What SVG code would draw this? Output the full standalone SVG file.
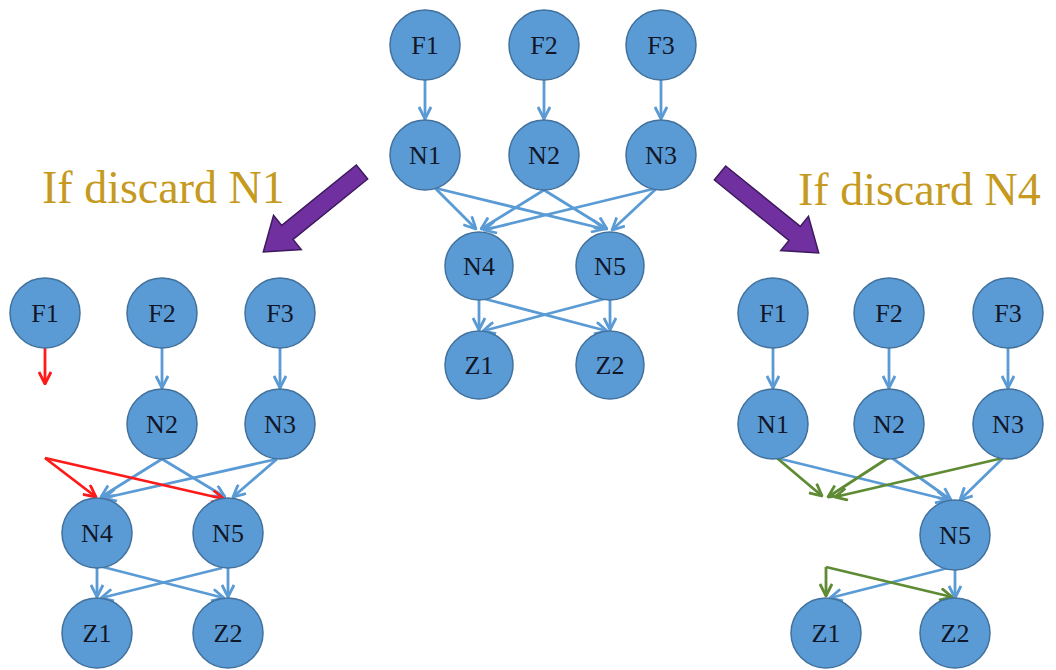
<svg xmlns="http://www.w3.org/2000/svg" width="1056" height="670" viewBox="0 0 1056 670">
  <style>
    .node circle { fill: #5B9BD5; stroke: #41719C; stroke-width: 1.5; }
    .node text { font-family: "Liberation Serif", "Times New Roman", serif; font-size: 26px; fill: #111729; text-anchor: middle; dominant-baseline: central; }
    .edge { fill: none; stroke: #5B9BD5; stroke-width: 2.8; marker-end: url(#headBlue); }
    .edge.red { stroke: #FF1A1A; marker-end: url(#headRed); }
    .edge.green { stroke: #5E8B34; marker-end: url(#headGreen); }
    .title { font-family: "Liberation Serif", "Times New Roman", serif; font-size: 46px; fill: #C59A1E; }
    .bigarrow { fill: #7030A0; stroke: #3E1A5E; stroke-width: 1.5; }
  </style>
  <defs>
    <marker id="headBlue" viewBox="0 0 14 14" refX="13" refY="7" markerWidth="14" markerHeight="14" markerUnits="userSpaceOnUse" orient="auto">
      <path d="M1,1 L13,7 L1,13" fill="none" stroke="#5B9BD5" stroke-width="2.8"/>
    </marker>
    <marker id="headRed" viewBox="0 0 14 14" refX="13" refY="7" markerWidth="14" markerHeight="14" markerUnits="userSpaceOnUse" orient="auto">
      <path d="M1,1 L13,7 L1,13" fill="none" stroke="#FF1A1A" stroke-width="2.8"/>
    </marker>
    <marker id="headGreen" viewBox="0 0 14 14" refX="13" refY="7" markerWidth="14" markerHeight="14" markerUnits="userSpaceOnUse" orient="auto">
      <path d="M1,1 L13,7 L1,13" fill="none" stroke="#5E8B34" stroke-width="2.8"/>
    </marker>
    <path id="blockArrow" d="M0,-9 L96,-9 L96,-22 L127,0 L96,22 L96,9 L0,9 Z"/>
  </defs>

  <rect width="1056" height="670" fill="#FFFFFF"/>

  <!-- headings and transition arrows -->
  <text class="title" x="42" y="203">If discard N1</text>
  <text class="title" x="798" y="205">If discard N4</text>
  <use href="#blockArrow" class="bigarrow" transform="translate(362,172) rotate(141)"/>
  <use href="#blockArrow" class="bigarrow" transform="translate(720,173) rotate(39)"/>

  <!-- connectors -->
  <g id="connectors">
    <!-- full network -->
    <line class="edge" x1="425" y1="80" x2="425" y2="119"/>
    <line class="edge" x1="544" y1="80" x2="544" y2="119"/>
    <line class="edge" x1="661" y1="80" x2="661" y2="119"/>
    <line class="edge" x1="435" y1="188" x2="476" y2="229"/>
    <line class="edge" x1="435" y1="188" x2="604" y2="229"/>
    <line class="edge" x1="544" y1="190" x2="481" y2="229"/>
    <line class="edge" x1="544" y1="190" x2="607" y2="229"/>
    <line class="edge" x1="657" y1="188" x2="484" y2="230"/>
    <line class="edge" x1="657" y1="188" x2="612" y2="230"/>
    <line class="edge" x1="479" y1="300" x2="479" y2="330"/>
    <line class="edge" x1="485" y1="299" x2="607" y2="331"/>
    <line class="edge" x1="604" y1="299" x2="483" y2="331"/>
    <line class="edge" x1="610" y1="300" x2="610" y2="330"/>

    <!-- N1 discarded -->
    <line class="edge red" x1="45" y1="348" x2="45" y2="384"/>
    <line class="edge" x1="162" y1="348" x2="162" y2="388"/>
    <line class="edge" x1="280" y1="348" x2="280" y2="388"/>
    <line class="edge" x1="162" y1="459" x2="101" y2="497"/>
    <line class="edge" x1="162" y1="459" x2="225" y2="497"/>
    <line class="edge" x1="277" y1="459" x2="104" y2="498"/>
    <line class="edge" x1="277" y1="459" x2="233" y2="497"/>
    <line class="edge red" x1="45" y1="458" x2="96" y2="497"/>
    <line class="edge red" x1="45" y1="458" x2="224" y2="499"/>
    <line class="edge" x1="97" y1="568" x2="97" y2="597"/>
    <line class="edge" x1="103" y1="567" x2="224" y2="598"/>
    <line class="edge" x1="222" y1="568" x2="101" y2="598"/>
    <line class="edge" x1="228" y1="568" x2="228" y2="597"/>

    <!-- N4 discarded -->
    <line class="edge" x1="773" y1="348" x2="773" y2="388"/>
    <line class="edge" x1="889" y1="348" x2="889" y2="388"/>
    <line class="edge" x1="1008" y1="348" x2="1008" y2="388"/>
    <line class="edge" x1="777" y1="458" x2="948" y2="500"/>
    <line class="edge" x1="892" y1="458" x2="951" y2="500"/>
    <line class="edge" x1="1003" y1="458" x2="960" y2="500"/>
    <line class="edge green" x1="777" y1="458" x2="822" y2="496"/>
    <line class="edge green" x1="888" y1="458" x2="828" y2="497"/>
    <line class="edge green" x1="1003" y1="458" x2="835" y2="497"/>
    <line class="edge" x1="948" y1="568" x2="830" y2="598"/>
    <line class="edge" x1="955" y1="570" x2="955" y2="598"/>
    <line class="edge green" x1="826" y1="567" x2="826" y2="596"/>
    <line class="edge green" x1="826" y1="567" x2="952" y2="597"/>
  </g>

  <!-- full network nodes -->
  <g id="c-F1" class="node"><circle cx="425" cy="45" r="35"/><text x="425" y="45">F1</text></g>
  <g id="c-F2" class="node"><circle cx="544" cy="45" r="35"/><text x="544" y="45">F2</text></g>
  <g id="c-F3" class="node"><circle cx="661" cy="45" r="35"/><text x="661" y="45">F3</text></g>
  <g id="c-N1" class="node"><circle cx="425" cy="155" r="35"/><text x="425" y="155">N1</text></g>
  <g id="c-N2" class="node"><circle cx="544" cy="155" r="35"/><text x="544" y="155">N2</text></g>
  <g id="c-N3" class="node"><circle cx="661" cy="155" r="35"/><text x="661" y="155">N3</text></g>
  <g id="c-N4" class="node"><circle cx="479" cy="266" r="34"/><text x="479" y="266">N4</text></g>
  <g id="c-N5" class="node"><circle cx="610" cy="266" r="34"/><text x="610" y="266">N5</text></g>
  <g id="c-Z1" class="node"><circle cx="479" cy="365" r="34"/><text x="479" y="365">Z1</text></g>
  <g id="c-Z2" class="node"><circle cx="610" cy="365" r="34"/><text x="610" y="365">Z2</text></g>

  <!-- network without N1 -->
  <g id="l-F1" class="node"><circle cx="45" cy="313" r="35"/><text x="45" y="313">F1</text></g>
  <g id="l-F2" class="node"><circle cx="162" cy="313" r="35"/><text x="162" y="313">F2</text></g>
  <g id="l-F3" class="node"><circle cx="280" cy="313" r="35"/><text x="280" y="313">F3</text></g>
  <g id="l-N2" class="node"><circle cx="162" cy="424" r="35"/><text x="162" y="424">N2</text></g>
  <g id="l-N3" class="node"><circle cx="280" cy="424" r="35"/><text x="280" y="424">N3</text></g>
  <g id="l-N4" class="node"><circle cx="97" cy="533" r="35"/><text x="97" y="533">N4</text></g>
  <g id="l-N5" class="node"><circle cx="228" cy="533" r="35"/><text x="228" y="533">N5</text></g>
  <g id="l-Z1" class="node"><circle cx="97" cy="633" r="35"/><text x="97" y="633">Z1</text></g>
  <g id="l-Z2" class="node"><circle cx="228" cy="633" r="35"/><text x="228" y="633">Z2</text></g>

  <!-- network without N4 -->
  <g id="r-F1" class="node"><circle cx="773" cy="313" r="35"/><text x="773" y="313">F1</text></g>
  <g id="r-F2" class="node"><circle cx="889" cy="313" r="35"/><text x="889" y="313">F2</text></g>
  <g id="r-F3" class="node"><circle cx="1008" cy="313" r="35"/><text x="1008" y="313">F3</text></g>
  <g id="r-N1" class="node"><circle cx="773" cy="424" r="35"/><text x="773" y="424">N1</text></g>
  <g id="r-N2" class="node"><circle cx="889" cy="424" r="35"/><text x="889" y="424">N2</text></g>
  <g id="r-N3" class="node"><circle cx="1008" cy="424" r="35"/><text x="1008" y="424">N3</text></g>
  <g id="r-N5" class="node"><circle cx="955" cy="535" r="35"/><text x="955" y="535">N5</text></g>
  <g id="r-Z1" class="node"><circle cx="826" cy="633" r="35"/><text x="826" y="633">Z1</text></g>
  <g id="r-Z2" class="node"><circle cx="955" cy="633" r="35"/><text x="955" y="633">Z2</text></g>
</svg>
